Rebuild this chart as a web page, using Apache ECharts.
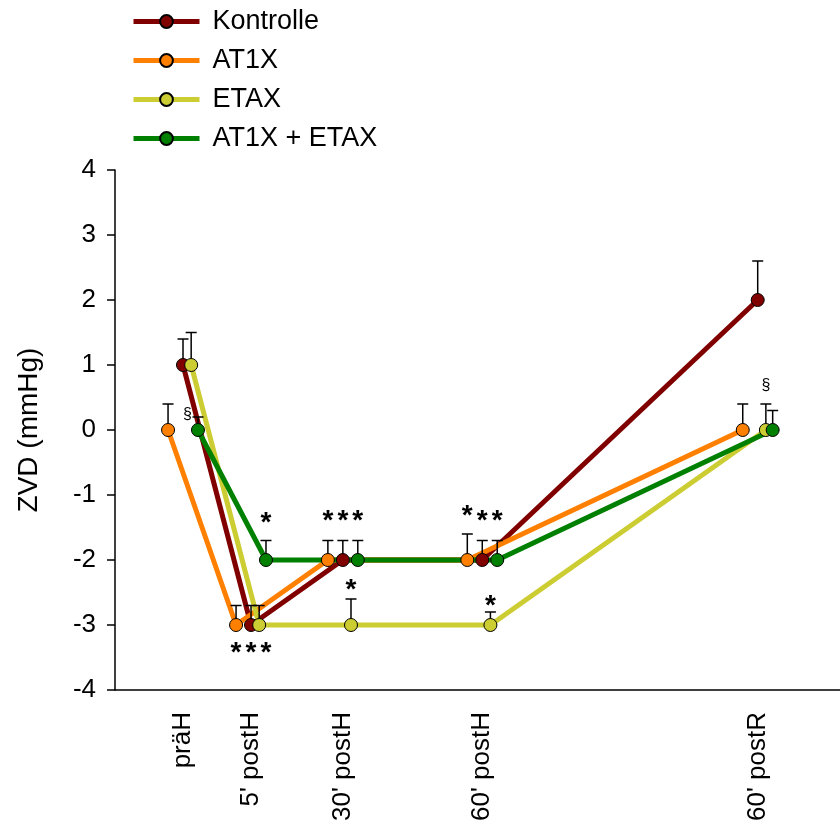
<!DOCTYPE html>
<html>
<head>
<meta charset="utf-8">
<style>
html,body{margin:0;padding:0;background:#fff;}
#chart{width:840px;height:829px;}
</style>
<script src="https://cdn.jsdelivr.net/npm/echarts@6/dist/echarts.min.js"></script>
</head>
<body>
<div id="chart"></div>
<script>
// ---- data ----
const categories = ['präH', "5' postH", "30' postH", "60' postH", "60' postR"];
const catPos = [1, 2, 3.35, 5.4, 9.45];
const seriesNames = ['Kontrolle', 'AT1X', 'ETAX', 'AT1X + ETAX'];
const kontrolle    = [1, -3, -2, -2, 2];
const kontrolleErr = [0.4, 0.3, 0.3, 0.3, 0.6];
const at1x         = [0, -3, -2, -2, 0];
const at1xErr      = [0.4, 0.3, 0.3, 0.4, 0.4];
const etax         = [1, -3, -3, -3, 0];
const etaxErr      = [0.5, 0.3, 0.4, 0.2, 0.4];
const combo        = [0, -2, -2, -2, 0];
const comboErr     = [0.2, 0.3, 0.3, 0.3, 0.3];
const seriesShift  = [0, -0.22, 0.12, 0.22];
const yTicks = [-4, -3, -2, -1, 0, 1, 2, 3, 4];
// significance marks: [category index, series index, y value, text]
const sigMarks = [
  [1, 3, -1.35, '*'],
  [1, 0, -3.34, '***'],
  [2, 1, -1.31, '*'], [2, 0, -1.31, '*'], [2, 3, -1.31, '*'],
  [2, 2, -2.38, '*'],
  [3, 1, -1.23, '*'], [3, 0, -1.31, '*'], [3, 3, -1.31, '*'],
  [3, 2, -2.62, '*'],
  [0, 3, 0.23, '§'],
  [4, 2, 0.69, '§']
];

const values = [kontrolle, at1x, etax, combo];
const errs = [kontrolleErr, at1xErr, etaxErr, comboErr];
const colors = ['#800000', '#ff8000', '#cccc33', '#008000'];
const FONT = "'Liberation Sans', Arial, sans-serif";
const FS = 26;

const chart = echarts.init(document.getElementById('chart'));

const lineSeries = seriesNames.map((name, s) => ({
  name: name,
  type: 'line',
  data: values[s].map((v, i) => [catPos[i] + seriesShift[s], v]),
  symbol: 'circle',
  symbolSize: 13,
  showSymbol: false,
  lineStyle: { color: colors[s], width: 5 },
  itemStyle: { color: colors[s], borderColor: '#000', borderWidth: 1 },
  z: 2,
  silent: true,
  animation: false
}));

const errData = [];
seriesNames.forEach((n, s) => {
  values[s].forEach((v, i) => {
    errData.push([catPos[i] + seriesShift[s], v, v + errs[s][i]]);
  });
});

const errSeries = {
  type: 'custom',
  name: '_err',
  data: errData,
  z: 3,
  silent: true,
  animation: false,
  renderItem: function (params, api) {
    const p0 = api.coord([api.value(0), api.value(1)]);
    const p1 = api.coord([api.value(0), api.value(2)]);
    const w = 5.5;
    return {
      type: 'group',
      children: [
        { type: 'line', shape: { x1: p0[0], y1: p0[1], x2: p1[0], y2: p1[1] }, style: { stroke: '#000', lineWidth: 1.5 } },
        { type: 'line', shape: { x1: p1[0] - w, y1: p1[1], x2: p1[0] + w, y2: p1[1] }, style: { stroke: '#000', lineWidth: 1.5 } }
      ]
    };
  }
};

const markerSeries = seriesNames.map((name, s) => ({
  name: '_m' + s,
  type: 'scatter',
  data: values[s].map((v, i) => [catPos[i] + seriesShift[s], v]),
  symbol: 'circle',
  symbolSize: 13,
  itemStyle: { color: colors[s], borderColor: '#000', borderWidth: 1, opacity: 1 },
  z: 4,
  silent: true,
  animation: false
}));

const sigSeries = {
  type: 'custom',
  name: '_sig',
  data: sigMarks.map(m => [catPos[m[0]] + seriesShift[m[1]], m[2]]),
  z: 5,
  silent: true,
  animation: false,
  renderItem: function (params, api) {
    const m = sigMarks[params.dataIndex];
    const p = api.coord([api.value(0), api.value(1)]);
    const txt = m[3];
    if (txt === '§') {
      let x = p[0], align = 'center';
      if (m[0] === 0) { x = p[0] - 6; align = 'right'; }
      return {
        type: 'text',
        style: { text: txt, x: x, y: p[1], align: align, verticalAlign: 'middle', fill: '#000', font: '16px ' + FONT }
      };
    }
    const n = txt.length;
    const step = 15;
    const children = [];
    for (let k = 0; k < n; k++) {
      children.push({
        type: 'text',
        style: {
          text: '*',
          x: p[0] + (k - (n - 1) / 2) * step,
          y: p[1] + 6,
          align: 'center',
          verticalAlign: 'middle',
          fill: '#000',
          font: 'bold 28px ' + FONT
        }
      });
    }
    return { type: 'group', children: children };
  }
};

function catLabel(v) {
  for (let i = 0; i < catPos.length; i++) {
    if (Math.abs(catPos[i] - v) < 1e-6) return categories[i];
  }
  return '';
}

chart.setOption({
  animation: false,
  backgroundColor: '#fff',
  textStyle: { fontFamily: FONT },
  legend: {
    data: seriesNames,
    orient: 'vertical',
    left: 126,
    top: 3,
    itemWidth: 66,
    itemHeight: 16,
    itemGap: 12,
    selectedMode: false,
    lineStyle: { width: 5 },
    textStyle: { fontSize: 27, color: '#000', fontFamily: FONT, padding: [0, 0, 0, 8] }
  },
  grid: { left: 115, right: 0, top: 170, bottom: 139, containLabel: false },
  xAxis: {
    type: 'value',
    min: 0,
    max: 10.66,
    splitLine: { show: false },
    axisTick: { show: false },
    axisLine: { show: true, onZero: false, lineStyle: { color: '#000', width: 1.5 } },
    axisLabel: {
      customValues: catPos,
      rotate: 90,
      margin: 22,
      fontSize: FS,
      color: '#000',
      fontFamily: FONT,
      formatter: catLabel
    }
  },
  yAxis: {
    type: 'value',
    min: -4,
    max: 4,
    interval: 1,
    name: 'ZVD (mmHg)',
    nameLocation: 'middle',
    nameGap: 72,
    nameTextStyle: { fontSize: 28, color: '#000', fontFamily: FONT },
    splitLine: { show: false },
    axisLine: { show: true, lineStyle: { color: '#000', width: 1.5 } },
    axisTick: { show: true, length: 8, inside: false, lineStyle: { color: '#000', width: 1.5 } },
    axisLabel: {
      margin: 19,
      fontSize: FS,
      color: '#000',
      fontFamily: FONT,
      formatter: v => yTicks.includes(v) ? String(v) : ''
    }
  },
  series: [...lineSeries, errSeries, ...markerSeries, sigSeries]
});
</script>
</body>
</html>
